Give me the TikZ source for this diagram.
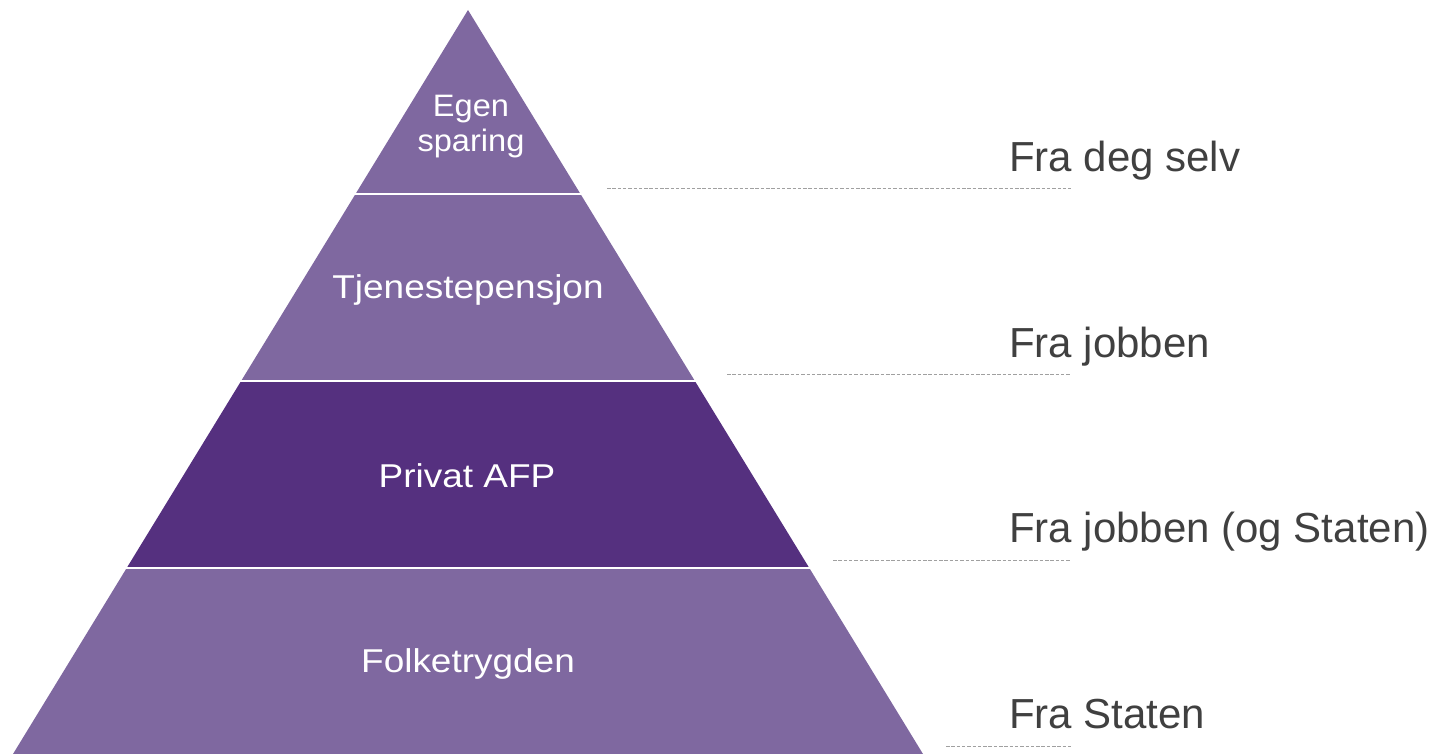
\documentclass[tikz,border=0pt]{standalone}
\usepackage{fontspec}
\setmainfont{Liberation Sans}
\definecolor{lightp}{HTML}{7F68A0}
\definecolor{darkp}{HTML}{55307F}
\definecolor{labelgray}{HTML}{404040}
\definecolor{dashgray}{HTML}{A0A0A0}
\begin{document}
\begin{tikzpicture}[x=1pt,y=-1pt,
  layertext/.style={text=white,font=\fontsize{33}{36}\selectfont,align=center,inner sep=0pt,xscale=1.12},
  sidelabel/.style={text=labelgray,font=\fontsize{42}{46}\selectfont,anchor=base west,inner sep=0pt},
  guide/.style={draw=dashgray,line width=0.9pt,dash pattern=on 3.5pt off 1.8pt},
  sep/.style={draw=white,line width=2.5pt}]
\useasboundingbox (0,0) rectangle (1438,754);
% layers
\fill[lightp] (468,10) -- (355.5,194) -- (580.5,194) -- cycle;
\fill[lightp] (355.5,194) -- (241.1,381) -- (694.9,381) -- (580.5,194) -- cycle;
\fill[darkp] (241.1,381) -- (126.7,568) -- (809.3,568) -- (694.9,381) -- cycle;
\fill[lightp] (126.7,568) -- (13,754) -- (923,754) -- (809.3,568) -- cycle;
\draw[sep] (350,194) -- (586,194);
\draw[sep] (236,381) -- (700,381);
\draw[sep] (122,568) -- (814,568);
% texts in pyramid
\node[layertext,font=\fontsize{31}{35}\selectfont,xscale=1.05/1.12] (egen) at (471,127) {Egen\\sparing};
\node[layertext] (tjen) at (468,290) {Tjenestepensjon};
\node[layertext] (afp) at (467,476) {Privat AFP};
\node[layertext] (folk) at (468,664) {Folketrygden};
% side labels
\node[sidelabel] (l1) at (1009,172) {Fra deg selv};
\node[sidelabel] (l2) at (1009,357) {Fra jobben};
\node[sidelabel] (l3) at (1009,542) {Fra jobben (og Staten)};
\node[sidelabel] (l4) at (1009,728) {Fra Staten};
% guide lines
\coordinate (g1a) at (607,188); \coordinate (g1b) at (1071,188);
\coordinate (g2a) at (727,374); \coordinate (g2b) at (1071,374);
\coordinate (g3a) at (833,560); \coordinate (g3b) at (1071,560);
\coordinate (g4a) at (946,746); \coordinate (g4b) at (1071,746);
\draw[guide] (g1a) -- (g1b);
\draw[guide] (g2a) -- (g2b);
\draw[guide] (g3a) -- (g3b);
\draw[guide] (g4a) -- (g4b);
\end{tikzpicture}
\end{document}
